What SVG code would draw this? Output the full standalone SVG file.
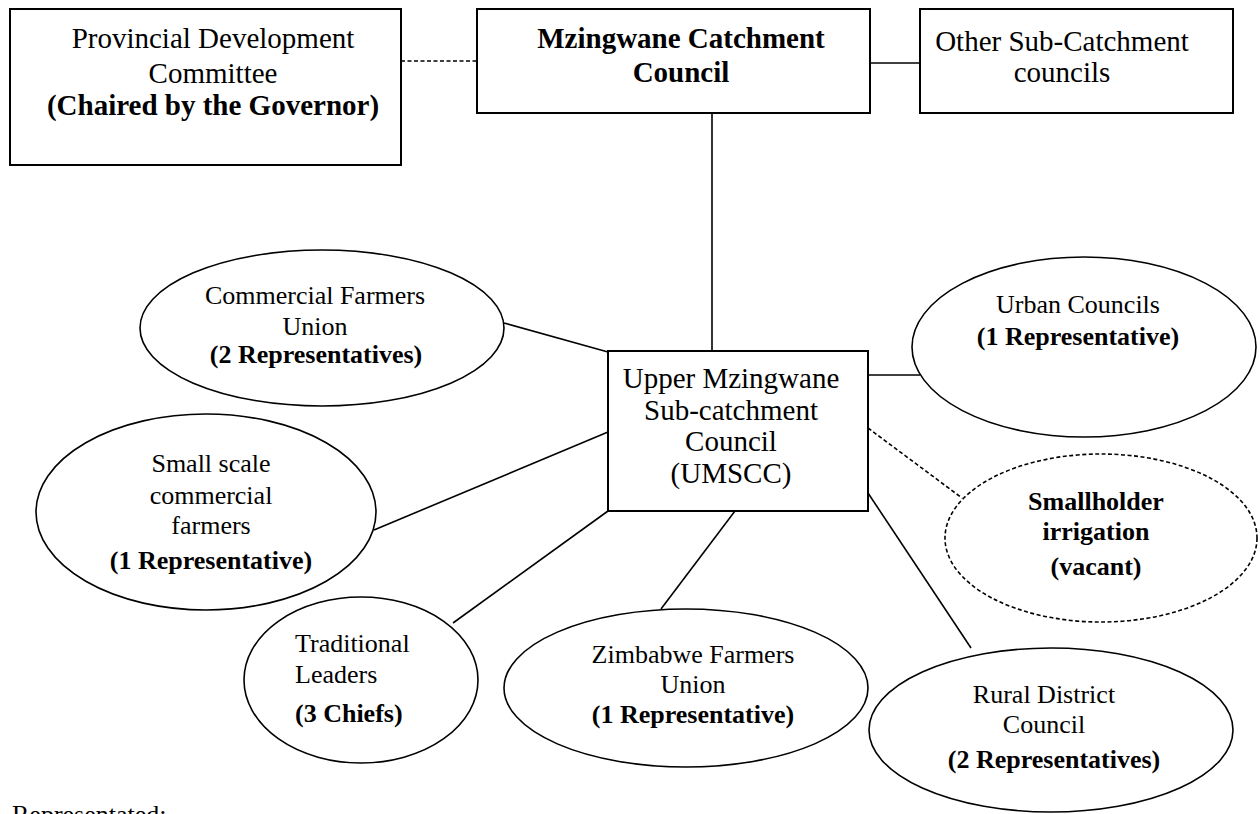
<svg xmlns="http://www.w3.org/2000/svg" width="1260" height="814" viewBox="0 0 1260 814">
<style>
text{font-family:"Liberation Serif","Times New Roman",serif;fill:#000;text-anchor:middle}
.big{font-size:29px}
.sm{font-size:26px}
.b{font-weight:bold}
.st{text-anchor:start}
.box{fill:#fff;stroke:#000;stroke-width:2}
.ell{fill:#fff;stroke:#000;stroke-width:1.6}
.dash{stroke-dasharray:4 2.5}
.con line{stroke:#000;stroke-width:1.6}
</style>
<rect width="1260" height="814" fill="#fff"/>
<g id="connectors" class="con">
<line x1="401" y1="61" x2="477" y2="61" class="dash"/>
<line x1="870" y1="63" x2="920" y2="63"/>
<line x1="712" y1="113" x2="712" y2="351"/>
<line x1="504" y1="323" x2="608" y2="352"/>
<line x1="374" y1="530" x2="608" y2="432"/>
<line x1="453" y1="623" x2="608" y2="511"/>
<line x1="661" y1="609" x2="738" y2="507"/>
<line x1="868" y1="493" x2="971" y2="648"/>
<line x1="868" y1="428" x2="962" y2="498" class="dash"/>
<line x1="868" y1="375" x2="920" y2="375"/>
</g>
<g id="provincial">
<rect class="box" x="10" y="9" width="391" height="156"/>
<text class="big" x="213" y="48">Provincial Development</text>
<text class="big" x="213" y="83">Committee</text>
<text class="big b" x="213" y="115">(Chaired by the Governor)</text>
</g>
<g id="mzingwane">
<rect class="box" x="477" y="9" width="393" height="104"/>
<text class="big b" x="681" y="48">Mzingwane Catchment</text>
<text class="big b" x="681" y="82">Council</text>
</g>
<g id="other">
<rect class="box" x="920" y="9" width="313" height="104"/>
<text class="big" x="1062" y="51">Other Sub-Catchment</text>
<text class="big" x="1062" y="82">councils</text>
</g>
<g id="umscc">
<rect class="box" x="608" y="351" width="260" height="160"/>
<text class="big" x="731" y="388">Upper Mzingwane</text>
<text class="big" x="731" y="420">Sub-catchment</text>
<text class="big" x="731" y="451">Council</text>
<text class="big" x="731" y="483">(UMSCC)</text>
</g>
<g id="cfu">
<ellipse class="ell" cx="322" cy="328" rx="182" ry="78"/>
<text class="sm" x="315" y="304">Commercial Farmers</text>
<text class="sm" x="315" y="335">Union</text>
<text class="sm b" x="316" y="363">(2 Representatives)</text>
</g>
<g id="smallscale">
<ellipse class="ell" cx="206" cy="512" rx="170" ry="98"/>
<text class="sm" x="211" y="472">Small scale</text>
<text class="sm" x="211" y="504">commercial</text>
<text class="sm" x="211" y="534">farmers</text>
<text class="sm b" x="211" y="569">(1 Representative)</text>
</g>
<g id="urban">
<ellipse class="ell" cx="1084" cy="347" rx="172" ry="90"/>
<text class="sm" x="1078" y="313">Urban Councils</text>
<text class="sm b" x="1078" y="345">(1 Representative)</text>
</g>
<g id="smallholder">
<ellipse class="ell dash" cx="1101" cy="538" rx="156" ry="84"/>
<text class="sm b" x="1096" y="510">Smallholder</text>
<text class="sm b" x="1096" y="540">irrigation</text>
<text class="sm b" x="1096" y="575">(vacant)</text>
</g>
<g id="traditional">
<ellipse class="ell" cx="361" cy="680" rx="117" ry="83"/>
<text class="sm st" x="295" y="652">Traditional</text>
<text class="sm st" x="295" y="683">Leaders</text>
<text class="sm b st" x="295" y="722">(3 Chiefs)</text>
</g>
<g id="zfu">
<ellipse class="ell" cx="686" cy="688" rx="182" ry="79"/>
<text class="sm" x="693" y="663">Zimbabwe Farmers</text>
<text class="sm" x="693" y="693">Union</text>
<text class="sm b" x="693" y="723">(1 Representative)</text>
</g>
<g id="rural">
<ellipse class="ell" cx="1051" cy="730" rx="182" ry="82"/>
<text class="sm" x="1044" y="703">Rural District</text>
<text class="sm" x="1044" y="733">Council</text>
<text class="sm b" x="1054" y="768">(2 Representatives)</text>
</g>
<text class="sm st" x="12" y="823">Representated:</text>
</svg>
